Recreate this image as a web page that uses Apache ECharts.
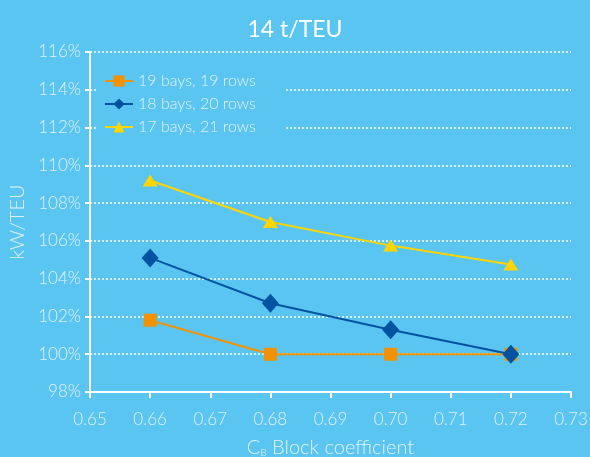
<!DOCTYPE html>
<html>
<head>
<meta charset="utf-8">
<script src="https://cdn.jsdelivr.net/npm/echarts@6/dist/echarts.min.js"></script>
<style>
  html, body { margin: 0; padding: 0; background: #5bc5f2; }
  #chart { width: 590px; height: 457px; }
</style>
</head>
<body>
<div id="chart"></div>
<script>
// Block coefficient values on the x axis
const blockCoefficients = [0.66, 0.68, 0.70, 0.72];

// Relative power per TEU (%) for each hull arrangement
const bays19rows19 = [101.8, 100.0, 100.0, 100.0];
const bays18rows20 = [105.1, 102.7, 101.3, 100.0];
const bays17rows21 = [109.2, 107.0, 105.75, 104.75];

const seriesNames = ['19 bays, 19 rows', '18 bays, 20 rows', '17 bays, 21 rows'];

const textColor = '#e2f2fb';
const font = 'Lato, "Open Sans", sans-serif';
const light = 300;

function pairs(xs, ys) { return xs.map((x, i) => [x, ys[i]]); }

const chart = echarts.init(document.getElementById('chart'));
chart.setOption({
  backgroundColor: '#5bc5f2',
  animation: false,
  textStyle: { fontFamily: font },
  title: {
    text: '14 t/TEU',
    left: 'center',
    top: 13,
    textStyle: { color: '#ffffff', fontSize: 23, fontWeight: 'normal', fontFamily: font }
  },
  legend: {
    left: 96,
    top: 69,
    orient: 'vertical',
    itemGap: 7,
    itemWidth: 28,
    itemHeight: 14,
    padding: [4, 30, 6, 8],
    backgroundColor: '#5bc5f2',
    textStyle: { color: textColor, fontSize: 16, fontWeight: light, fontFamily: font },
    data: seriesNames
  },
  grid: { left: 90, right: 19, top: 52, bottom: 65, containLabel: false, outerBoundsMode: 'none' },
  xAxis: {
    type: 'value',
    min: 0.65,
    max: 0.73,
    interval: 0.01,
    name: '{c|C}{s|B}{c| Block coefficient}',
    nameLocation: 'middle',
    nameGap: 45,
    nameTextStyle: {
      rich: {
        c: { color: textColor, fontSize: 20, fontWeight: light, fontFamily: font },
        s: { color: textColor, fontSize: 10, fontWeight: light, fontFamily: font, verticalAlign: 'bottom', padding: [11, 0, 0, 0] }
      }
    },
    axisLine: { lineStyle: { color: '#ffffff', width: 2 } },
    axisTick: { show: true, length: 6, lineStyle: { color: '#ffffff', width: 2 } },
    axisLabel: {
      color: textColor, fontSize: 17, fontWeight: light, margin: 19,
      formatter: v => v.toFixed(2)
    },
    splitLine: { show: false }
  },
  yAxis: {
    type: 'value',
    min: 98,
    max: 116,
    interval: 2,
    name: 'kW/TEU',
    nameLocation: 'middle',
    nameGap: 62,
    nameTextStyle: { color: textColor, fontSize: 20, fontWeight: light, fontFamily: font },
    axisLine: { show: true, lineStyle: { color: '#ffffff', width: 2 } },
    axisTick: { show: true, length: 5, lineStyle: { color: '#ffffff', width: 2 } },
    axisLabel: { color: textColor, fontSize: 17, fontWeight: light, margin: 9, formatter: v => v + '%' },
    splitLine: { show: true, lineStyle: { color: '#ffffff', type: [2, 2], width: 1.5 } }
  },
  series: [
    {
      name: seriesNames[0], type: 'line', data: pairs(blockCoefficients, bays19rows19),
      symbol: 'rect', symbolSize: 13, z: 3,
      itemStyle: { color: '#f39200' }, lineStyle: { color: '#f39200', width: 2 }
    },
    {
      name: seriesNames[1], type: 'line', data: pairs(blockCoefficients, bays18rows20),
      symbol: 'diamond', symbolSize: [17, 19], z: 4,
      itemStyle: { color: '#0053a0' }, lineStyle: { color: '#0053a0', width: 2 }
    },
    {
      name: seriesNames[2], type: 'line', data: pairs(blockCoefficients, bays17rows21),
      symbol: 'triangle', symbolSize: [15, 12], z: 2,
      itemStyle: { color: '#ffd500' }, lineStyle: { color: '#ffd500', width: 2 }
    }
  ]
});
</script>
</body>
</html>
